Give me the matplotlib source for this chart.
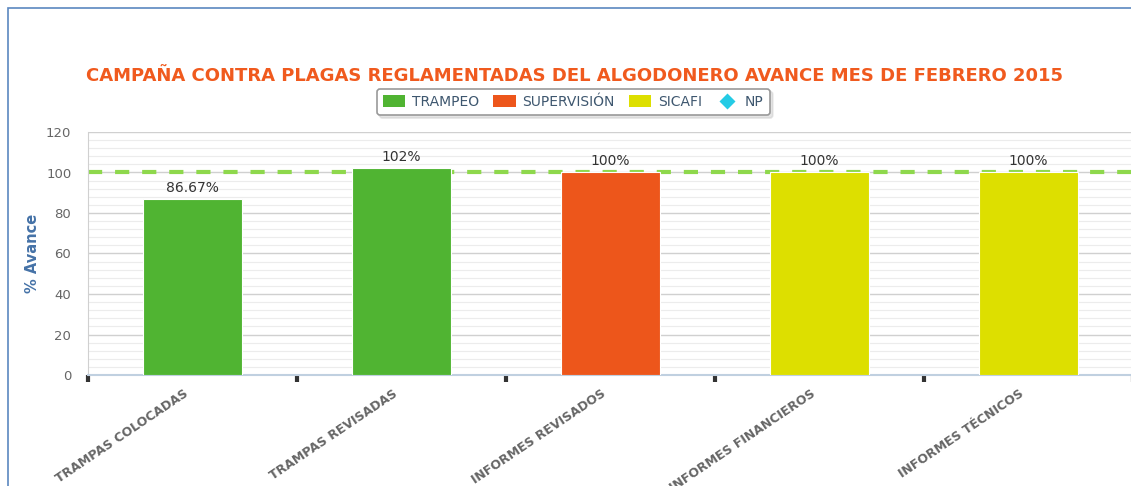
import numpy as np
import matplotlib.pyplot as plt
from matplotlib.patches import Patch, Rectangle
from matplotlib.lines import Line2D

# datos del avance
categorias = ['TRAMPAS COLOCADAS', 'TRAMPAS REVISADAS', 'INFORMES REVISADOS',
              'INFORMES FINANCIEROS', 'INFORMES TÉCNICOS']
avance = [86.67, 102, 100, 100, 100]
etiquetas = ['86.67%', '102%', '100%', '100%', '100%']
grupo = ['TRAMPEO', 'TRAMPEO', 'SUPERVISIÓN', 'SICAFI', 'SICAFI']
meta = 100

series = ['TRAMPEO', 'SUPERVISIÓN', 'SICAFI', 'NP']
colores = {'TRAMPEO': '#50b432', 'SUPERVISIÓN': '#ed561b',
           'SICAFI': '#dddf00', 'NP': '#24cbe5'}

plt.rcParams['font.family'] = 'DejaVu Sans'

fig = plt.figure(figsize=(11.31, 4.86), dpi=100)
fig.patch.set_facecolor('white')

# marco azul del contenedor
fig.patches.append(Rectangle((8 / 1131, -0.1), 1.2, 1 - 8 / 486 + 0.1,
                             transform=fig.transFigure, fill=False,
                             edgecolor='#5b87c0', linewidth=1.2))

ax = fig.add_axes([88 / 1131, 1 - 375 / 486, 1045 / 1131, 243 / 486])

x = np.arange(len(categorias))
ax.bar(x, avance, width=0.475, color=[colores[g] for g in grupo],
       edgecolor='white', linewidth=0.8, zorder=3)

for xi, v, t in zip(x, avance, etiquetas):
    ax.annotate(t, (xi, v), xytext=(0, 3), textcoords='offset points',
                ha='center', va='bottom', fontsize=10, color='#333333', zorder=5)

# linea de meta (por detras de las barras)
ax.axhline(meta, color='#8ed84c', linewidth=3, linestyle=(0, (3.4, 3.1)), zorder=2)

ax.set_xlim(-0.5, len(categorias) - 0.5)
ax.set_ylim(0, 120)

ax.set_yticks(np.arange(0, 121, 20))
ax.set_yticks(np.arange(0, 121, 4), minor=True)
ax.grid(axis='y', which='major', color='#d0d0d0', linewidth=1, zorder=0)
ax.grid(axis='y', which='minor', color='#ececec', linewidth=0.8, zorder=0)
ax.tick_params(axis='y', which='both', length=0, labelsize=9.5,
               labelcolor='#666666', pad=12)

ax.set_xticks(np.arange(len(categorias) + 1) - 0.5)
ax.set_xticklabels([])
ax.set_xticks(x - 0.045, minor=True)
ax.set_xticklabels(categorias, minor=True, rotation=34, ha='right',
                   rotation_mode='anchor', fontsize=9, fontweight='bold',
                   color='#666666')
ax.tick_params(axis='x', which='major', length=5, width=3, color='#333333',
               direction='out')
ax.tick_params(axis='x', which='minor', length=0, pad=9)

for s in ['top', 'right']:
    ax.spines[s].set_visible(False)
ax.spines['left'].set_color('#d0d0d0')
ax.spines['bottom'].set_color('#c0d0e0')
ax.spines['bottom'].set_linewidth(1.5)

ax.set_ylabel('% Avance', color='#4572a7', fontsize=10.5, fontweight='bold',
              labelpad=4)

fig.text(0.508, 1 - 76 / 486, 'CAMPAÑA CONTRA PLAGAS REGLAMENTADAS DEL ALGODONERO AVANCE MES DE FEBRERO 2015',
         ha='center', va='center', fontsize=13, fontweight='bold', color='#f05a1e')

handles = [Patch(facecolor=colores[s], edgecolor='none') for s in series[:3]]
handles.append(Line2D([], [], linestyle='none', marker='D', markersize=8,
                      markerfacecolor=colores['NP'], markeredgecolor='none'))
leg = fig.legend(handles, series, loc='center', bbox_to_anchor=(0.507, 1 - 102 / 486),
                 ncol=4, frameon=True, fancybox=True,
                 shadow={'color': '#cccccc', 'ox': 2, 'oy': -2},
                 fontsize=10, handlelength=1.6, handleheight=1.0, columnspacing=1.0,
                 handletextpad=0.5, borderpad=0.45)
leg.get_frame().set_edgecolor('#999999')
leg.get_frame().set_linewidth(1.2)
for t in leg.get_texts():
    t.set_color('#3e576f')

fig.savefig('out.png', dpi=100)
